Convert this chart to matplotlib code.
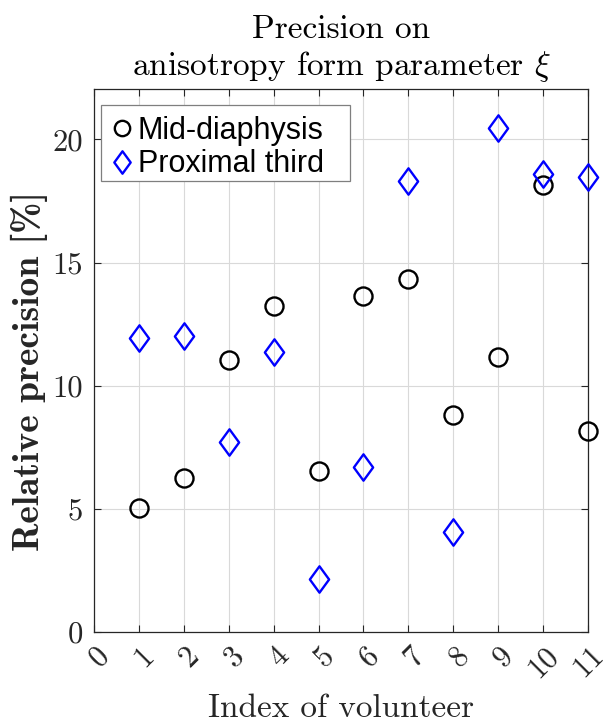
import matplotlib
matplotlib.use('Agg')
import matplotlib.pyplot as plt
import numpy as np
from matplotlib.path import Path
from matplotlib.patches import Rectangle
from matplotlib.transforms import ScaledTranslation

volunteers = [1, 2, 3, 4, 5, 6, 7, 8, 9, 10, 11]
mid_diaphysis = [5.04, 6.24, 11.03, 13.24, 6.54, 13.65, 14.33, 8.81, 11.17, 18.16, 8.16]
proximal_third = [11.93, 12.03, 7.70, 11.36, 2.15, 6.71, 18.32, 4.05, 20.46, 18.61, 18.47]
xticks = list(range(0, 12))
yticks = [0, 5, 10, 15, 20]

plt.rcParams['mathtext.fontset'] = 'cm'
plt.rcParams['axes.unicode_minus'] = False
axcol = '#262626'

fig = plt.figure(figsize=(6.03, 7.24), dpi=100)
ax = fig.add_axes([94/603, 1 - 632/724, 494/603, 543/724])

# MATLAB-ish diamond (a bit narrower than tall)
diamond = Path([(0, 1), (0.73, 0), (0, -1), (-0.73, 0), (0, 1)],
               [Path.MOVETO, Path.LINETO, Path.LINETO, Path.LINETO, Path.CLOSEPOLY])

ax.plot(volunteers, mid_diaphysis, 'o', ms=13, mfc='none', mec='k', mew=1.7,
        label='Mid-diaphysis', clip_on=False, zorder=3)
ax.plot(volunteers, proximal_third, ls='none', marker=diamond, ms=19, mfc='none',
        mec='#0000ff', mew=1.7, label='Proximal third', clip_on=False, zorder=3)

ax.set_xlim(0, 11)
ax.set_ylim(0, 22.05)
ax.set_xticks(xticks)
ax.set_yticks(yticks)
ax.set_xticklabels([str(t) for t in xticks], fontfamily='cmr10', fontsize=22, color=axcol)
ax.set_yticklabels([str(t) for t in yticks], fontfamily='cmr10', fontsize=22, color=axcol)
ax.tick_params(direction='in', length=5, width=0.8, color=axcol, top=True, right=True)
ax.tick_params(axis='y', pad=8)
ax.tick_params(axis='x', pad=14)
shift = ScaledTranslation(11/100, 0, fig.dpi_scale_trans)
for lbl in ax.get_xticklabels():
    lbl.set_rotation(45)
    lbl.set_rotation_mode('anchor')
    lbl.set_ha('right')
    lbl.set_va('center')
    lbl.set_transform(lbl.get_transform() + shift)

for s in ax.spines.values():
    s.set_color(axcol)
    s.set_linewidth(0.9)

ax.grid(True, color='#d9d9d9', lw=0.8)
ax.set_axisbelow(True)

ax.set_xlabel('Index of volunteer', fontfamily='cmr10', fontsize=24, color=axcol,
              labelpad=8)
ax.set_ylabel('Relative precision [%]', fontfamily='cmb10', fontsize=27, color=axcol)
ax.yaxis.set_label_coords(-0.093, 0.48)
ax.set_title('Precision on\nanisotropy form parameter $\\xi$', fontfamily='cmr10',
             fontsize=24, color='k', pad=10, linespacing=1.2)

# legend box drawn by hand so it can be wider on the right, like MATLAB
ax.add_patch(Rectangle((0.0142, 0.8306), 0.504, 0.1399, transform=ax.transAxes,
                       facecolor='white', edgecolor='#7f7f7f', lw=0.9, zorder=4,
                       clip_on=False))
leg = ax.legend(loc='upper left', bbox_to_anchor=(0.014, 0.9705),
                prop={'family': 'Liberation Sans', 'size': 22},
                frameon=False, handlelength=0.65, handletextpad=0.2, borderpad=0.35,
                labelspacing=0.12, borderaxespad=0, markerscale=0.85)
leg.set_zorder(5)

fig.savefig('out.png', dpi=100)
